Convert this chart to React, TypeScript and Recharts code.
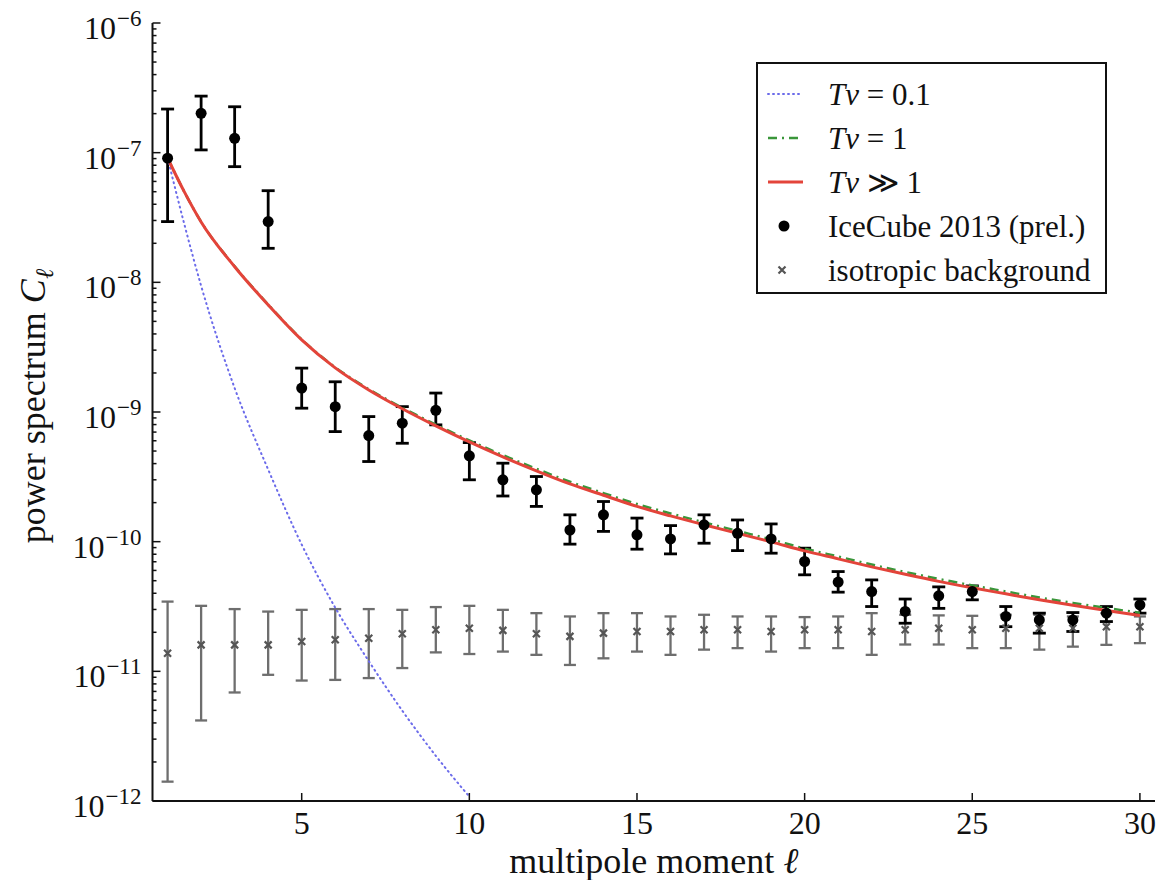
import React from 'react';
import { ComposedChart, Line, Scatter, ErrorBar, XAxis, YAxis, Legend } from 'recharts';

const FONT = '"Liberation Serif", "Times New Roman", serif';
const INK = '#111';

// multipole moments of the measured spectra
const ells = [1, 2, 3, 4, 5, 6, 7, 8, 9, 10, 11, 12, 13, 14, 15, 16, 17, 18, 19, 20, 21, 22, 23, 24, 25, 26, 27, 28, 29, 30];

// IceCube 2013 (prel.): C_l with lower / upper ends of the error bars
const iceCube = [9.06e-8, 2.01e-7, 1.29e-7, 2.94e-8, 1.53e-9, 1.10e-9, 6.58e-10, 8.20e-10, 1.03e-9, 4.59e-10, 3.0e-10, 2.51e-10, 1.23e-10, 1.61e-10, 1.13e-10, 1.05e-10, 1.35e-10, 1.16e-10, 1.05e-10, 7.03e-11, 4.88e-11, 4.12e-11, 2.9e-11, 3.82e-11, 4.12e-11, 2.65e-11, 2.49e-11, 2.49e-11, 2.81e-11, 3.26e-11];
const iceCubeLow = [2.94e-8, 1.05e-7, 7.8e-8, 1.83e-8, 1.07e-9, 7.06e-10, 4.15e-10, 5.74e-10, 7.96e-10, 3.0e-10, 2.25e-10, 1.87e-10, 9.57e-11, 1.2e-10, 8.75e-11, 8.05e-11, 9.73e-11, 8.53e-11, 8.15e-11, 5.55e-11, 4.08e-11, 3.16e-11, 2.35e-11, 3.06e-11, 3.56e-11, 2.21e-11, 1.97e-11, 2.03e-11, 2.42e-11, 2.81e-11];
const iceCubeHigh = [2.17e-7, 2.73e-7, 2.26e-7, 5.09e-8, 2.18e-9, 1.71e-9, 9.22e-10, 1.1e-9, 1.4e-9, 5.81e-10, 4.03e-10, 3.18e-10, 1.61e-10, 2.04e-10, 1.52e-10, 1.33e-10, 1.61e-10, 1.47e-10, 1.37e-10, 8.91e-11, 5.88e-11, 5.07e-11, 3.61e-11, 4.48e-11, 4.56e-11, 3.16e-11, 2.81e-11, 2.84e-11, 3.16e-11, 3.61e-11];

// isotropic background expectation
const isoBg = [1.38e-11, 1.6e-11, 1.6e-11, 1.6e-11, 1.7e-11, 1.75e-11, 1.8e-11, 1.95e-11, 2.09e-11, 2.15e-11, 2.07e-11, 1.95e-11, 1.86e-11, 1.97e-11, 2.03e-11, 2.03e-11, 2.09e-11, 2.09e-11, 2.03e-11, 2.09e-11, 2.09e-11, 2.03e-11, 2.09e-11, 2.15e-11, 2.09e-11, 2.15e-11, 2.15e-11, 2.15e-11, 2.21e-11, 2.21e-11];
const isoBgLow = [1.41e-12, 4.18e-12, 6.87e-12, 9.4e-12, 8.49e-12, 8.59e-12, 8.87e-12, 1.06e-11, 1.4e-11, 1.36e-11, 1.42e-11, 1.34e-11, 1.12e-11, 1.26e-11, 1.42e-11, 1.34e-11, 1.47e-11, 1.51e-11, 1.42e-11, 1.51e-11, 1.51e-11, 1.34e-11, 1.61e-11, 1.61e-11, 1.51e-11, 1.51e-11, 1.47e-11, 1.55e-11, 1.6e-11, 1.65e-11];
const isoBgHigh = [3.45e-11, 3.2e-11, 3.02e-11, 2.89e-11, 2.98e-11, 3.02e-11, 3.02e-11, 2.98e-11, 3.13e-11, 3.2e-11, 2.98e-11, 2.81e-11, 2.65e-11, 2.81e-11, 2.81e-11, 2.65e-11, 2.73e-11, 2.65e-11, 2.65e-11, 2.62e-11, 2.65e-11, 2.81e-11, 2.73e-11, 2.7e-11, 2.68e-11, 2.73e-11, 2.73e-11, 2.65e-11, 2.81e-11, 2.65e-11];

// model curves
const modelEll = [1, 1.5, 2, 3, 4, 5, 6, 7, 8, 9, 10, 11, 12, 13, 14, 15, 16, 17, 18, 19, 20, 21, 22, 23, 24, 25, 26, 27, 28, 29, 30];
const tvMuchGreater = [9.1e-8, 4.98e-8, 2.92e-8, 1.32e-8, 6.7e-9, 3.6e-9, 2.19e-9, 1.48e-9, 1.06e-9, 7.82e-10, 5.88e-10, 4.51e-10, 3.52e-10, 2.79e-10, 2.28e-10, 1.87e-10, 1.58e-10, 1.35e-10, 1.16e-10, 9.96e-11, 8.49e-11, 7.37e-11, 6.39e-11, 5.6e-11, 4.94e-11, 4.41e-11, 3.96e-11, 3.56e-11, 3.23e-11, 2.95e-11, 2.7e-11];
const tvOne = [9.1e-8, 4.98e-8, 2.93e-8, 1.33e-8, 6.75e-9, 3.63e-9, 2.21e-9, 1.5e-9, 1.08e-9, 8.0e-10, 6.04e-10, 4.65e-10, 3.65e-10, 2.9e-10, 2.37e-10, 1.95e-10, 1.65e-10, 1.41e-10, 1.21e-10, 1.04e-10, 8.85e-11, 7.68e-11, 6.66e-11, 5.84e-11, 5.16e-11, 4.6e-11, 4.13e-11, 3.71e-11, 3.37e-11, 3.08e-11, 2.83e-11];
const tvTenthEll = [1, 1.5, 2, 3, 4, 5, 6, 7, 8, 9, 10];
const tvTenth = [9.1e-8, 2.8e-8, 9.4e-9, 1.53e-9, 3.6e-10, 9.5e-11, 3.1e-11, 1.2e-11, 4.97e-12, 2.23e-12, 1.08e-12];

// axes
const xTicks = [5, 10, 15, 20, 25, 30];
const decades = [-12, -11, -10, -9, -8, -7, -6];
const minorSteps = [2, 3, 4, 5, 6, 7, 8, 9];

const yTicks = decades.flatMap((d) =>
  d === -6 ? [Math.pow(10, d)] : [Math.pow(10, d), ...minorSteps.map((m) => m * Math.pow(10, d))]
);

const withErrors = (vals: number[], lo: number[], hi: number[]) =>
  ells.map((l, i) => ({ l, c: vals[i], err: [vals[i] - lo[i], hi[i] - vals[i]] }));

const iceCubeData = withErrors(iceCube, iceCubeLow, iceCubeHigh);
const isoData = withErrors(isoBg, isoBgLow, isoBgHigh);
const curve = (xs: number[], ys: number[]) => xs.map((l, i) => ({ l, v: ys[i] }));

const COLORS = {
  tenth: '#6b6bea',
  one: '#3a963a',
  high: '#e3443a',
  bg: '#6e6e6e',
};

const TICK_FONT = 32;
const SUP_FONT = 23;
const TITLE_FONT = 36;
const LEGEND_FONT = 31;

const isMajor = (v: number) => {
  const e = Math.log10(v);
  return Math.abs(e - Math.round(e)) < 1e-6;
};

const LeftTick = (p: any) => {
  const v = p.payload.value;
  const major = isMajor(v);
  const exp = Math.round(Math.log10(v));
  return (
    <g>
      <line x1={p.x} x2={p.x + (major ? 8 : 4)} y1={p.y} y2={p.y} stroke={INK} strokeWidth={1.5} />
      {major && (
        <text x={p.x - 11} y={p.y + 16} textAnchor="end" fontFamily={FONT} fontSize={TICK_FONT} fill={INK}>
          10
          <tspan dx={1} dy={-13} fontSize={SUP_FONT}>{'\u2212' + Math.abs(exp)}</tspan>
        </text>
      )}
    </g>
  );
};

const RightTick = (p: any) => {
  const major = isMajor(p.payload.value);
  return <line x1={p.x} x2={p.x - (major ? 8 : 4)} y1={p.y} y2={p.y} stroke={INK} strokeWidth={1.5} />;
};

const BottomTick = (p: any) => (
  <g>
    <line x1={p.x} x2={p.x} y1={p.y} y2={p.y - 8} stroke={INK} strokeWidth={1.5} />
    <text x={p.x} y={p.y + 33} textAnchor="middle" fontFamily={FONT} fontSize={TICK_FONT} fill={INK}>
      {p.payload.value}
    </text>
  </g>
);

const TopTick = (p: any) => <line x1={p.x} x2={p.x} y1={p.y} y2={p.y + 8} stroke={INK} strokeWidth={1.5} />;

const XTitle = (p: any) => {
  const { x, y, width } = p.viewBox;
  return (
    <text x={x + width / 2} y={y + 72} textAnchor="middle" fontFamily={FONT} fontSize={TITLE_FONT} fill={INK}>
      {'multipole moment '}
      <tspan fontStyle="italic">ℓ</tspan>
    </text>
  );
};

const YTitle = (p: any) => {
  const { x, y, height } = p.viewBox;
  const cx = x + 35;
  const cy = y + height / 2 - 6;
  return (
    <text x={cx} y={cy} transform={`rotate(-90 ${cx} ${cy})`} textAnchor="middle" fontFamily={FONT} fontSize={TITLE_FONT} fill={INK}>
      {'power spectrum '}
      <tspan fontStyle="italic">C</tspan>
      <tspan fontStyle="italic" fontSize={25} dy={8}>ℓ</tspan>
    </text>
  );
};

const Dot = (p: any) => <circle cx={p.cx} cy={p.cy} r={5.5} fill="#000" />;

const Cross = (p: any) => {
  const s = 3.5;
  return (
    <path
      d={`M${p.cx - s},${p.cy - s}L${p.cx + s},${p.cy + s}M${p.cx - s},${p.cy + s}L${p.cx + s},${p.cy - s}`}
      stroke="#555"
      strokeWidth={2.2}
    />
  );
};

const legendRows = [
  {
    key: 'tenth',
    label: (<><i>T</i><i>ν</i>{' = 0.1'}</>),
    handle: <line x1={10} x2={45} y1={22} y2={22} stroke={COLORS.tenth} strokeWidth={2} strokeDasharray="1 4" strokeLinecap="round" />,
  },
  {
    key: 'one',
    label: (<><i>T</i><i>ν</i>{' = 1'}</>),
    handle: <line x1={10} x2={45} y1={22} y2={22} stroke={COLORS.one} strokeWidth={2.5} strokeDasharray="9 5 2 5" />,
  },
  {
    key: 'high',
    label: (<><i>T</i><i>ν</i>{' \u226B 1'}</>),
    handle: <line x1={10} x2={45} y1={22} y2={22} stroke={COLORS.high} strokeWidth={3} />,
  },
  { key: 'ice', label: 'IceCube 2013 (prel.)', handle: <circle cx={26} cy={22} r={5.5} fill="#000" /> },
  { key: 'iso', label: 'isotropic background', handle: <g>{Cross({ cx: 24, cy: 22 })}</g> },
];

const LegendBox = () => (
  <div
    style={{
      border: '2px solid #111',
      background: '#fff',
      padding: '8px 0 0 0',
      width: 347,
      fontFamily: FONT,
      fontSize: LEGEND_FONT,
      color: INK,
    }}
  >
    {legendRows.map((row) => (
      <div key={row.key} style={{ height: 44, display: 'flex', alignItems: 'center' }}>
        <svg width={70} height={44} style={{ flex: 'none' }}>
          {row.handle}
        </svg>
        <span style={{ lineHeight: 1, whiteSpace: 'nowrap' }}>{row.label}</span>
      </div>
    ))}
  </div>
);

const frame = { stroke: INK, strokeWidth: 2 };
const xDomain: [number, number] = [0.55, 30.45];
const yDomain: [number, number] = [1e-12, 1e-6];

export default function App() {
  return (
    <div style={{ position: 'absolute', left: 0, top: 0, width: 1160, height: 880, background: '#fff' }}>
      <ComposedChart width={1160} height={880} margin={{ top: 23, right: 5, bottom: 0, left: 10 }}>
        <XAxis
          xAxisId="b"
          type="number"
          dataKey="l"
          domain={xDomain}
          ticks={xTicks}
          interval={0}
          allowDataOverflow
          height={79}
          tickSize={0}
          tickMargin={0}
          tickLine={false}
          axisLine={frame}
          tick={(p: any) => <BottomTick {...p} />}
          label={(p: any) => <XTitle {...p} />}
        />
        <XAxis
          xAxisId="t"
          orientation="top"
          type="number"
          dataKey="l"
          domain={xDomain}
          ticks={xTicks}
          interval={0}
          allowDataOverflow
          height={0}
          tickSize={0}
          tickMargin={0}
          tickLine={false}
          axisLine={frame}
          tick={(p: any) => <TopTick {...p} />}
        />
        <YAxis
          yAxisId="l"
          type="number"
          scale="log"
          domain={yDomain}
          ticks={yTicks}
          interval={0}
          allowDataOverflow
          width={142.5}
          tickSize={0}
          tickMargin={0}
          tickLine={false}
          axisLine={frame}
          tick={(p: any) => <LeftTick {...p} />}
          label={(p: any) => <YTitle {...p} />}
        />
        <YAxis
          yAxisId="r"
          orientation="right"
          type="number"
          scale="log"
          domain={yDomain}
          ticks={yTicks}
          interval={0}
          allowDataOverflow
          width={0}
          tickSize={0}
          tickMargin={0}
          tickLine={false}
          axisLine={frame}
          tick={(p: any) => <RightTick {...p} />}
        />
        <Legend
          layout="vertical"
          align="center"
          verticalAlign="middle"
          wrapperStyle={{ left: 756, top: 62 }}
          content={() => <LegendBox />}
        />

        <Scatter xAxisId="b" yAxisId="l" name="isotropic background" data={isoData} dataKey="c" shape={Cross} isAnimationActive={false}>
          <ErrorBar dataKey="err" direction="y" width={6} stroke={COLORS.bg} strokeWidth={2.3} isAnimationActive={false} />
        </Scatter>
        <Scatter xAxisId="b" yAxisId="l" name="IceCube 2013 (prel.)" data={iceCubeData} dataKey="c" shape={Dot} isAnimationActive={false}>
          <ErrorBar dataKey="err" direction="y" width={6.5} stroke="#000" strokeWidth={2.8} isAnimationActive={false} />
        </Scatter>

        <Line
          xAxisId="b"
          yAxisId="l"
          data={curve(tvTenthEll, tvTenth)}
          dataKey="v"
          type="monotone"
          stroke={COLORS.tenth}
          strokeWidth={2}
          strokeDasharray="1 4"
          strokeLinecap="round"
          dot={false}
          activeDot={false}
          isAnimationActive={false}
        />
        <Line
          xAxisId="b"
          yAxisId="l"
          data={curve(modelEll, tvOne)}
          dataKey="v"
          type="monotone"
          stroke={COLORS.one}
          strokeWidth={2.5}
          strokeDasharray="9 5 2 5"
          dot={false}
          activeDot={false}
          isAnimationActive={false}
        />
        <Line
          xAxisId="b"
          yAxisId="l"
          data={curve(modelEll, tvMuchGreater)}
          dataKey="v"
          type="monotone"
          stroke={COLORS.high}
          strokeWidth={3}
          dot={false}
          activeDot={false}
          isAnimationActive={false}
        />
      </ComposedChart>
    </div>
  );
}
